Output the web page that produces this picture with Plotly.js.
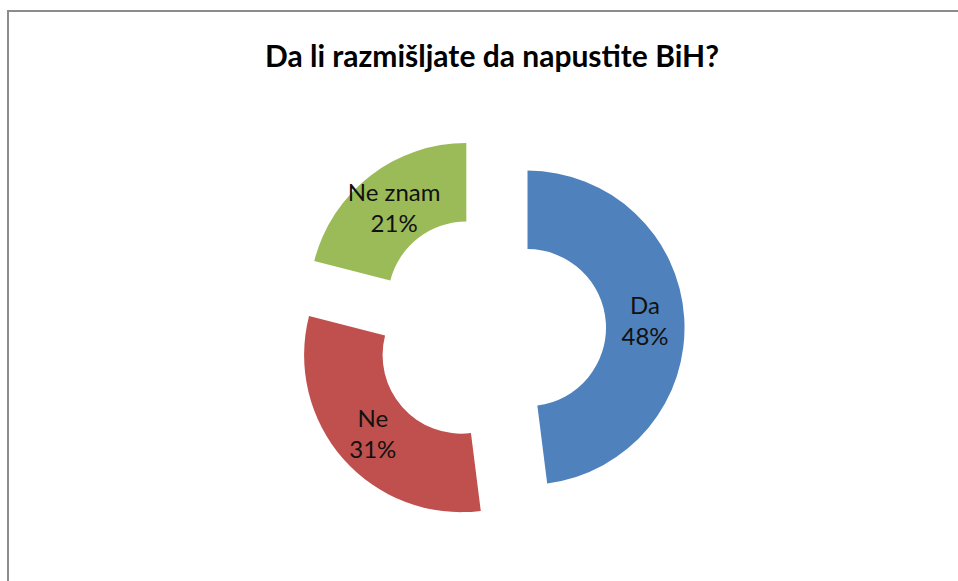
<!DOCTYPE html>
<html>
<head>
<meta charset="utf-8">
<script src="https://cdn.plot.ly/plotly-3.0.1.min.js"></script>
<style>html,body{margin:0;padding:0;background:#fff;}#chart{width:958px;height:581px;}</style>
</head>
<body>
<div id="chart"></div>
<script>
var labels = ["Da", "Ne", "Ne znam"];
var values = [48, 31, 21];
var colors = ["#4F81BD", "#C0504D", "#9BBB59"];
var titleText = "Da li razmišljate da napustite BiH?";

var W = 958, H = 581;
var cx = 489.6, cy = 330, r = 157, pull = 0.242;
var box = 2 * r * (1 + pull);

var trace = {
  type: "pie",
  labels: labels,
  values: values,
  marker: {colors: colors, line: {width: 0}},
  sort: false,
  direction: "clockwise",
  rotation: 0,
  hole: 0.5,
  pull: [pull, pull, pull],
  texttemplate: "%{label}<br>%{percent:.0%}",
  textposition: "inside",
  insidetextorientation: "horizontal",
  textfont: {family: "Lato, 'Open Sans', sans-serif", size: 24, color: "#111"},
  hoverinfo: "label+percent",
  showlegend: false,
  domain: {
    x: [(cx - box / 2) / W, (cx + box / 2) / W],
    y: [1 - (cy + box / 2) / H, 1 - (cy - box / 2) / H]
  }
};

var layout = {
  width: W, height: H,
  margin: {l: 0, r: 0, t: 0, b: 0},
  paper_bgcolor: "#ffffff",
  showlegend: false,
  uniformtext: {minsize: 24, mode: "show"},
  title: {
    text: "<b>" + titleText + "</b>",
    font: {family: "Lato, 'Open Sans', sans-serif", size: 30, color: "#000"},
    x: 492 / W, xanchor: "center", xref: "paper",
    y: 1 - 56 / H, yanchor: "middle", yref: "paper"
  },
  shapes: [
    {type: "line", xref: "paper", yref: "paper", x0: 8 / W, x1: 8 / W, y0: 0, y1: 1 - 10 / H, line: {color: "#8c8c8c", width: 2}},
    {type: "line", xref: "paper", yref: "paper", x0: 7 / W, x1: 1, y0: 1 - 11 / H, y1: 1 - 11 / H, line: {color: "#8c8c8c", width: 2}}
  ]
};

Plotly.newPlot("chart", [trace], layout, {displayModeBar: false, staticPlot: true});
</script>
</body>
</html>
